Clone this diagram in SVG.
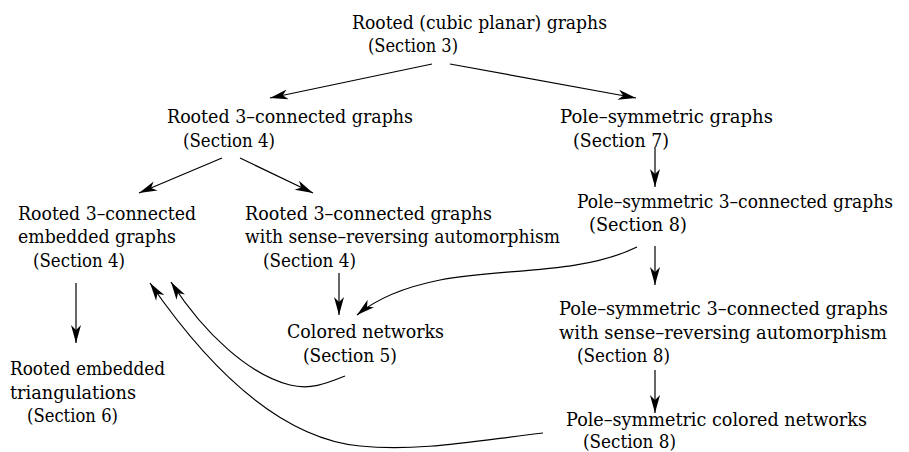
<svg xmlns="http://www.w3.org/2000/svg" width="909" height="452" viewBox="0 0 909 452">
<style>
text{font-family:"DejaVu Serif","Liberation Serif",serif;font-size:19px;fill:#000}
.c{fill:none;stroke:#000;stroke-width:1.2;marker-end:url(#ah)}
</style>
<defs>
<marker id="ah" markerUnits="userSpaceOnUse" orient="auto" overflow="visible" markerWidth="1" markerHeight="1">
<path d="M0,0 L-18,-5 L-13,0 L-18,5 Z" fill="#000"/>
</marker>
</defs>
<rect width="909" height="452" fill="#fff"/>
<g id="n1">
<text x="352" y="29" textLength="255" lengthAdjust="spacingAndGlyphs">Rooted (cubic planar) graphs</text>
<text x="368" y="52" textLength="90" lengthAdjust="spacingAndGlyphs">(Section 3)</text>
</g>
<g id="n2">
<text x="167" y="123" textLength="246" lengthAdjust="spacingAndGlyphs">Rooted 3–connected graphs</text>
<text x="183" y="147" textLength="92" lengthAdjust="spacingAndGlyphs">(Section 4)</text>
</g>
<g id="n3">
<text x="560" y="123" textLength="213" lengthAdjust="spacingAndGlyphs">Pole–symmetric graphs</text>
<text x="573" y="147" textLength="96" lengthAdjust="spacingAndGlyphs">(Section 7)</text>
</g>
<g id="n4">
<text x="18" y="220" textLength="178" lengthAdjust="spacingAndGlyphs">Rooted 3–connected</text>
<text x="18" y="243" textLength="158" lengthAdjust="spacingAndGlyphs">embedded graphs</text>
<text x="33" y="267" textLength="92" lengthAdjust="spacingAndGlyphs">(Section 4)</text>
</g>
<g id="n5">
<text x="245" y="220" textLength="247" lengthAdjust="spacingAndGlyphs">Rooted 3–connected graphs</text>
<text x="245" y="243" textLength="315" lengthAdjust="spacingAndGlyphs">with sense–reversing automorphism</text>
<text x="263" y="267" textLength="93" lengthAdjust="spacingAndGlyphs">(Section 4)</text>
</g>
<g id="n6">
<text x="577" y="208" textLength="316" lengthAdjust="spacingAndGlyphs">Pole–symmetric 3–connected graphs</text>
<text x="589" y="231" textLength="98" lengthAdjust="spacingAndGlyphs">(Section 8)</text>
</g>
<g id="n7">
<text x="287" y="338" textLength="157" lengthAdjust="spacingAndGlyphs">Colored networks</text>
<text x="303" y="362" textLength="94" lengthAdjust="spacingAndGlyphs">(Section 5)</text>
</g>
<g id="n8">
<text x="559" y="315" textLength="329" lengthAdjust="spacingAndGlyphs">Pole–symmetric 3–connected graphs</text>
<text x="559" y="339" textLength="328" lengthAdjust="spacingAndGlyphs">with sense–reversing automorphism</text>
<text x="577" y="362" textLength="93" lengthAdjust="spacingAndGlyphs">(Section 8)</text>
</g>
<g id="n9">
<text x="10" y="375" textLength="155" lengthAdjust="spacingAndGlyphs">Rooted embedded</text>
<text x="10" y="399" textLength="126" lengthAdjust="spacingAndGlyphs">triangulations</text>
<text x="27" y="422" textLength="91" lengthAdjust="spacingAndGlyphs">(Section 6)</text>
</g>
<g id="n10">
<text x="566" y="426" textLength="301" lengthAdjust="spacingAndGlyphs">Pole–symmetric colored networks</text>
<text x="583" y="448" textLength="93" lengthAdjust="spacingAndGlyphs">(Section 8)</text>
</g>
<g id="connectors">
<path class="c" d="M432,64 L270,98"/>
<path class="c" d="M450,64 L636,98"/>
<path class="c" d="M222,158 L139,193"/>
<path class="c" d="M240,158 L313,193"/>
<path class="c" d="M655,147 L655,187"/>
<path class="c" d="M655,246 L655,285"/>
<path class="c" d="M655,370 L655,413"/>
<path class="c" d="M339,273 L339,315"/>
<path class="c" d="M76,283 L76,343"/>
<path class="c" d="M637,247 C580,275 500,268 440,280 C400,288 375,300 357,315"/>
<path class="c" d="M345,376 C325,384 310,390 290,385 C250,375 205,335 171,282"/>
<path class="c" d="M543,433 C480,440 420,452 360,446 C280,438 210,370 150,283"/>
</g>
</svg>
